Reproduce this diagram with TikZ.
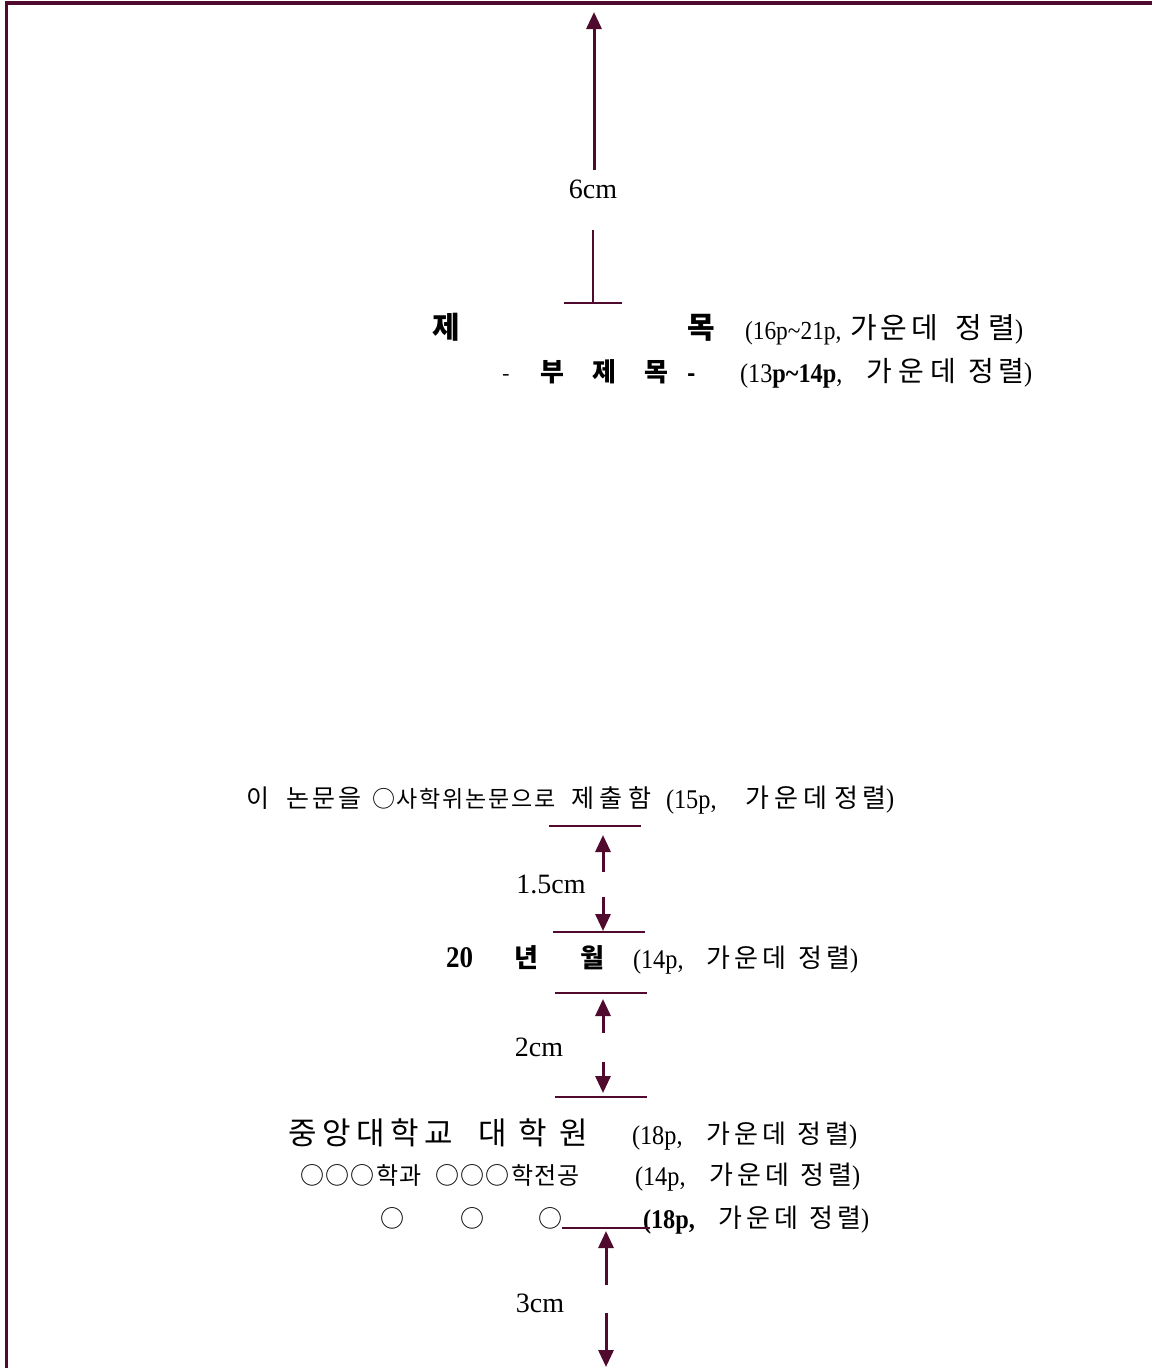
\documentclass[tikz,border=0pt]{standalone}
\usepackage{fontspec}
\usepackage{graphicx}
\setmainfont{Liberation Serif}
\newfontfamily\cjk{Noto Sans CJK KR}
\usetikzlibrary{arrows.meta}
\definecolor{mar}{RGB}{80,10,45}
\newcommand\korT[2]{{\cjk\fontsize{#1}{#1}\selectfont #2}}
\newcommand\korB[2]{{\cjk\bfseries\fontsize{#1}{#1}\selectfont #2}}
\newcommand\korW[3]{{\cjk\fontsize{#1}{#1}\selectfont\makebox[#2pt][s]{#3}}}
\newcommand\latT[2]{{\fontsize{#1}{#1}\selectfont\scalebox{0.9}[1]{#2}}}
\newcommand\latB[2]{{\bfseries\fontsize{#1}{#1}\selectfont\scalebox{0.9}[1]{#2}}}
\begin{document}
\begin{tikzpicture}[x=1pt,y=-1pt,
  txt/.style={anchor=base west, inner sep=0pt, outer sep=0pt},
  lab/.style={inner sep=0pt, font=\fontsize{28}{28}\selectfont},
  arr/.style={draw=mar, line width=3pt, -{Triangle[width=15pt,length=17pt]}},
  rulel/.style={draw=mar, line width=2.5pt},
  frame/.style={draw=mar, line width=3.5pt}]
\useasboundingbox (0,0) rectangle (1152,1368);
\fill[white] (0,0) rectangle (1152,1368);
% frame
\coordinate (fTR) at (1152,3);
\coordinate (fTL) at (6.5,3);
\coordinate (fBL) at (6.5,1368);
\draw[frame] (fTR) -- (fTL) -- (fBL);
% 6cm
\coordinate (a1s) at (594,170); \coordinate (a1e) at (594,12);
\draw[arr] (a1s) -- (a1e);
\node[lab] (l6) at (593,189) {6cm};
\coordinate (b1s) at (593,230); \coordinate (b1e) at (593,303);
\draw[rulel] (b1s) -- (b1e);
\coordinate (r1l) at (564,303); \coordinate (r1r) at (622,303);
\draw[rulel] (r1l) -- (r1r);
% title
\node[txt] (t1) at (432,338) {\korB{30}{제}};
\node[txt] (t2) at (687,338) {\korB{30}{목}};
\node[txt] (t3) at (745,339) {\latT{26}{(16p\textasciitilde 21p,}};
\node[txt] (t4) at (850,338) {\korW{29}{88}{가\hfil 운\hfil 데}};
\node[txt] (t5) at (955,338) {\korW{29}{60}{정\hfil 렬}\latT{27}{)}};
% subtitle
\node[txt] (s1) at (502,381) {\korT{22}{-}};
\node[txt] (s2) at (540,381) {\korB{26}{부}};
\node[txt] (s3) at (592,381) {\korB{26}{제}};
\node[txt] (s4) at (644,381) {\korB{26}{목}};
\node[txt] (s5) at (687,381) {\korB{22}{-}};
\node[txt] (s6) at (740,382) {\latT{27}{(13}\latB{27}{p\textasciitilde 14p}\latT{27}{,}};
\node[txt] (s7) at (866,381) {\korW{28}{90}{가\hfil 운\hfil 데}};
\node[txt] (s8) at (968,381) {\korW{28}{56}{정\hfil 렬}\latT{27}{)}};
% submission
\node[txt] (p1) at (246,807) {\korT{25}{이}};
\node[txt] (p2) at (286,807) {\korW{25}{75}{논\hfil 문\hfil 을}};
\node[txt] (p3) at (372,807) {\korW{23}{184}{○\hfil 사\hfil 학\hfil 위\hfil 논\hfil 문\hfil 으\hfil 로}};
\node[txt] (p4) at (571,807) {\korW{25}{80}{제\hfil 출\hfil 함}};
\node[txt] (p5) at (666,808) {\latT{27}{(15p,}};
\node[txt] (p6) at (745,807) {\korW{26}{82}{가\hfil 운\hfil 데}};
\node[txt] (p7) at (834,807) {\korW{26}{52}{정\hfil 렬}\latT{27}{)}};
% 1.5cm
\coordinate (r2l) at (549,826); \coordinate (r2r) at (641,826);
\draw[rulel] (r2l) -- (r2r);
\coordinate (a2s) at (603,872); \coordinate (a2e) at (603,835);
\draw[arr] (a2s) -- (a2e);
\node[lab] (l15) at (551,884) {1.5cm};
\coordinate (a3s) at (603,897); \coordinate (a3e) at (603,931);
\draw[arr] (a3s) -- (a3e);
\coordinate (r3l) at (553,932); \coordinate (r3r) at (645,932);
\draw[rulel] (r3l) -- (r3r);
% date
\node[txt] (d1) at (446,967) {\latB{30}{20}};
\node[txt] (d2) at (514,967) {\korB{26}{년}};
\node[txt] (d3) at (580,967) {\korB{26}{월}};
\node[txt] (d4) at (633,968) {\latT{27}{(14p,}};
\node[txt] (d5) at (706,967) {\korW{26}{80}{가\hfil 운\hfil 데}};
\node[txt] (d6) at (798,967) {\korW{26}{52}{정\hfil 렬}\latT{27}{)}};
% 2cm
\coordinate (r4l) at (555,993); \coordinate (r4r) at (647,993);
\draw[rulel] (r4l) -- (r4r);
\coordinate (a4s) at (603,1033); \coordinate (a4e) at (603,999);
\draw[arr] (a4s) -- (a4e);
\node[lab] (l2) at (539,1047) {2cm};
\coordinate (a5s) at (603,1062); \coordinate (a5e) at (603,1093);
\draw[arr] (a5s) -- (a5e);
\coordinate (r5l) at (555,1097); \coordinate (r5r) at (647,1097);
\draw[rulel] (r5l) -- (r5r);
% school
\node[txt] (u1) at (288,1144) {\korW{31}{165}{중\hfil 앙\hfil 대\hfil 학\hfil 교}};
\node[txt] (u2) at (478,1144) {\korW{31}{110}{대\hfil 학\hfil 원}};
\node[txt] (u3) at (632,1144) {\latT{27}{(18p,}};
\node[txt] (u4) at (706,1143) {\korW{26}{80}{가\hfil 운\hfil 데}};
\node[txt] (u5) at (797,1143) {\korW{26}{52}{정\hfil 렬}\latT{27}{)}};
% department
\node[txt] (m1) at (300,1184) {\korW{24}{122}{○\hfil ○\hfil ○\hfil 학\hfil 과}};
\node[txt] (m2) at (435,1184) {\korW{24}{145}{○\hfil ○\hfil ○\hfil 학\hfil 전\hfil 공}};
\node[txt] (m3) at (635,1185) {\latT{27}{(14p,}};
\node[txt] (m4) at (709,1184) {\korW{26}{80}{가\hfil 운\hfil 데}};
\node[txt] (m5) at (800,1184) {\korW{26}{52}{정\hfil 렬}\latT{27}{)}};
% name
\node[txt] (n1) at (380,1227) {\korT{24}{○}};
\node[txt] (n2) at (460,1227) {\korT{24}{○}};
\node[txt] (n3) at (538,1227) {\korT{24}{○}};
\node[txt] (n4) at (643,1228) {\latB{27}{(18p,}};
\node[txt] (n5) at (718,1227) {\korW{26}{80}{가\hfil 운\hfil 데}};
\node[txt] (n6) at (809,1227) {\korW{26}{52}{정\hfil 렬}\latT{27}{)}};
\coordinate (r6l) at (562,1228); \coordinate (r6r) at (650,1228);
\draw[rulel] (r6l) -- (r6r);
% 3cm
\coordinate (a6s) at (606,1285); \coordinate (a6e) at (606,1231);
\draw[arr] (a6s) -- (a6e);
\node[lab] (l3) at (540,1303) {3cm};
\coordinate (a7s) at (606,1313); \coordinate (a7e) at (606,1367);
\draw[arr] (a7s) -- (a7e);
\end{tikzpicture}
\end{document}
